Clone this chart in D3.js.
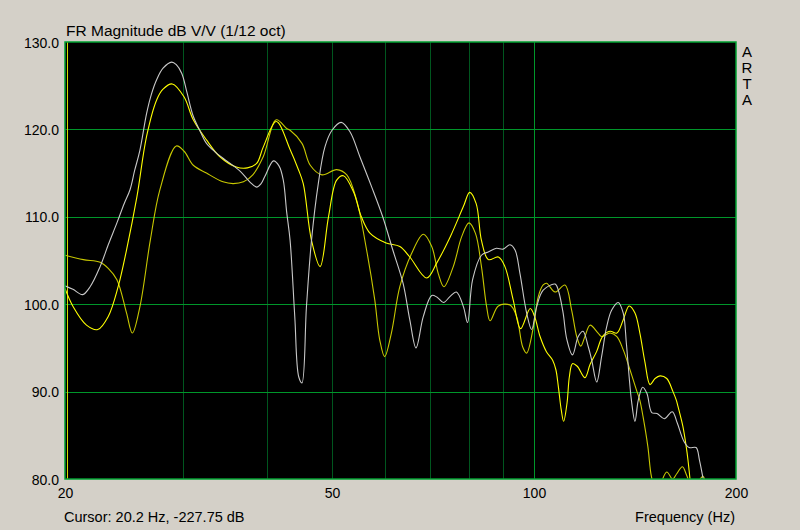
<!DOCTYPE html>
<html>
<head>
<meta charset="utf-8">
<script src="https://cdn.jsdelivr.net/npm/d3@7"></script>
<style>
  body { margin: 0; background: #d4d0c8; }
  text { font-family: "Liberation Sans", Arial, sans-serif; fill: #000; }
</style>
</head>
<body>
<div id="chart"></div>
<script>
// FR magnitude plot (ARTA style), 1/12 oct smoothing

// Axis values
var yTicks = [80, 90, 100, 110, 120, 130];
var xLabels = [20, 50, 100, 200];
var gridFreqs = [30, 40, 50, 60, 70, 80, 90, 100];
var cursorFreq = 20.2;

// White trace
var whiteFreq = [20.0, 20.55, 21.25, 21.8, 22.56, 23.2, 23.9, 24.5, 25.0, 25.4, 25.86, 26.46, 26.9, 27.4, 28.0, 28.84, 29.3, 29.86, 30.4, 31.06, 31.8, 32.5, 33.5, 34.4, 36.5, 37.7, 38.6, 39.2, 39.7, 40.9, 41.7, 42.3, 42.8, 43.3, 44.0, 44.6, 45.1, 45.8, 46.6, 47.7, 48.8, 50.0, 51.6, 53.2, 55.0, 57.3, 59.5, 61.6, 63.8, 65.3, 66.7, 68.4, 70.4, 71.7, 73.3, 75.0, 76.6, 78.5, 79.6, 81.0, 83.5, 85.6, 87.9, 89.9, 92.1, 93.7, 95.3, 97.5, 99.2, 100.9, 103.2, 107.5, 108.7, 110.5, 111.9, 114.1, 116.4, 118.3, 120.5, 121.9, 124.0, 126.1, 128.3, 130.5, 133.5, 135.8, 137.3, 138.6, 139.7, 141.4, 143.0, 145.2, 147.3, 149.8, 152.5, 156.4, 160.7, 163.5, 167.3, 170.3, 174.4, 176.4, 178.6, 181.0];
var whiteDb = [102.1, 101.7, 101.1, 102.0, 104.3, 106.8, 109.3, 111.5, 113.1, 115.3, 117.6, 121.8, 124.0, 125.7, 127.0, 127.7, 127.4, 126.4, 124.2, 121.5, 119.8, 118.4, 117.4, 116.7, 115.2, 114.0, 113.4, 113.8, 114.6, 116.4, 115.8, 114.2, 110.5, 107.3, 98.6, 91.7, 91.0, 99.7, 107.3, 113.8, 118.0, 119.9, 120.8, 119.7, 116.9, 113.4, 110.0, 106.2, 102.4, 98.2, 95.0, 98.6, 101.0, 100.8, 100.2, 100.9, 101.4, 99.7, 97.9, 102.8, 105.6, 106.0, 106.4, 106.3, 106.8, 106.2, 103.5, 99.0, 97.1, 99.7, 101.6, 102.3, 101.6, 99.0, 96.0, 94.2, 96.3, 96.9, 95.1, 93.6, 91.1, 94.0, 97.4, 99.3, 100.2, 99.0, 95.5, 91.7, 89.0, 86.6, 89.0, 90.5, 89.8, 87.6, 87.5, 86.9, 87.7, 86.4, 84.3, 83.6, 83.6, 82.2, 80.1, 78.0];

// Bright yellow trace
var brightFreq = [20.0, 20.57, 21.53, 22.38, 23.2, 24.0, 24.7, 25.6, 26.46, 27.4, 28.0, 28.9, 30.1, 31.06, 32.5, 34.0, 36.0, 37.4, 38.6, 39.5, 41.3, 43.3, 44.5, 45.3, 46.6, 48.0, 49.4, 50.8, 52.0, 53.8, 55.3, 57.0, 60.2, 63.1, 65.3, 69.2, 71.6, 75.0, 78.5, 80.2, 82.0, 83.5, 85.5, 88.5, 90.5, 93.1, 95.5, 98.7, 100.2, 102.1, 104.3, 106.6, 107.8, 108.7, 109.8, 110.7, 112.0, 112.9, 114.1, 116.0, 119.1, 121.2, 124.0, 126.5, 129.8, 132.9, 135.8, 138.6, 141.4, 143.8, 146.3, 148.9, 151.5, 154.1, 157.7, 161.1, 163.0, 163.9, 166.7, 168.6, 169.6, 170.8, 172.0];
var brightDb = [101.8, 99.7, 97.6, 97.1, 98.6, 102.0, 106.2, 112.3, 119.2, 123.4, 124.6, 125.2, 123.7, 121.1, 118.8, 116.9, 115.7, 115.6, 116.1, 118.0, 120.9, 117.7, 115.5, 113.8, 107.3, 104.3, 110.0, 114.2, 114.7, 112.9, 110.0, 108.1, 107.0, 106.6, 105.4, 103.0, 104.7, 107.7, 111.2, 112.8, 111.5, 107.3, 105.1, 105.4, 104.3, 100.5, 97.2, 99.5, 98.6, 96.3, 94.6, 93.6, 92.5, 90.6, 87.9, 86.6, 88.7, 91.7, 93.2, 92.9, 91.6, 93.1, 94.6, 96.3, 96.9, 96.7, 98.2, 99.8, 99.0, 96.7, 93.4, 90.8, 91.5, 91.8, 91.5, 90.0, 89.0, 88.3, 86.0, 83.7, 82.2, 80.0, 78.0];

// Olive trace
var oliveFreq = [20.0, 21.3, 22.56, 23.2, 23.9, 24.7, 25.2, 25.86, 26.8, 27.7, 29.3, 30.1, 31.06, 32.5, 34.4, 35.6, 36.9, 38.1, 39.5, 41.3, 42.8, 43.3, 45.1, 46.4, 48.3, 50.8, 52.6, 54.4, 56.3, 57.9, 58.9, 59.9, 61.3, 63.1, 65.7, 68.4, 70.4, 72.0, 73.4, 75.8, 78.0, 80.0, 81.8, 83.5, 85.0, 86.0, 88.5, 92.1, 94.2, 96.2, 97.5, 99.8, 101.5, 103.2, 104.4, 107.5, 111.2, 113.8, 115.8, 117.4, 119.1, 121.2, 124.6, 126.1, 129.8, 132.9, 135.8, 139.0, 142.1, 143.8, 145.4, 147.8, 149.6, 152.0, 154.5, 157.7, 160.9, 163.2, 166.4, 168.9, 171.0, 175.0, 178.6, 181.0, 183.0];
var oliveDb = [105.6, 105.1, 104.8, 104.1, 102.8, 99.0, 96.7, 99.7, 107.3, 113.1, 118.1, 117.5, 115.9, 115.0, 114.0, 113.8, 114.0, 114.8, 116.9, 121.1, 120.1, 119.9, 118.4, 115.9, 114.8, 115.4, 114.8, 111.9, 106.2, 100.5, 95.9, 94.0, 96.7, 102.0, 105.8, 108.0, 106.6, 103.5, 102.0, 104.3, 107.7, 109.3, 108.1, 104.3, 99.7, 98.1, 99.8, 99.9, 98.6, 95.1, 94.4, 97.4, 100.9, 102.2, 102.4, 101.4, 102.2, 99.3, 96.3, 95.2, 96.3, 97.6, 96.7, 96.3, 96.7, 96.3, 94.8, 92.5, 90.2, 89.0, 87.1, 83.7, 80.3, 78.5, 79.5, 80.8, 80.0, 80.6, 81.4, 80.4, 79.5, 79.6, 80.3, 79.0, 78.0];

var traces = [
    { name: "olive", freq: oliveFreq, db: oliveDb, color: "#c8c800" },
    { name: "bright", freq: brightFreq, db: brightDb, color: "#ffff00" },
    { name: "white", freq: whiteFreq, db: whiteDb, color: "#c8c8c8" }
];

// SVG dimensions
var svgWidth = 800;
var svgHeight = 530;
var plot = { left: 65, top: 42, right: 736, bottom: 479 };
var plotWidth = plot.right - plot.left;
var plotHeight = plot.bottom - plot.top;

var svg = d3.select("#chart")
    .append("svg")
    .attr("width", svgWidth)
    .attr("height", svgHeight)
    .style("display", "block");

svg.append("rect")
    .attr("width", svgWidth)
    .attr("height", svgHeight)
    .attr("fill", "#d4d0c8");

// Scales
var xScale = d3.scaleLog().domain([20, 200]).range([plot.left, plot.right]);
var yScale = d3.scaleLinear().domain([80, 130]).range([plot.bottom, plot.top]);

// Plot background
svg.append("rect")
    .attr("x", plot.left)
    .attr("y", plot.top)
    .attr("width", plotWidth)
    .attr("height", plotHeight)
    .attr("fill", "#000");

svg.append("clipPath")
    .attr("id", "plotClip")
    .append("rect")
    .attr("x", plot.left)
    .attr("y", plot.top)
    .attr("width", plotWidth)
    .attr("height", plotHeight);

// Vertical grid
var xGrid = svg.append("g")
    .attr("transform", `translate(0, ${plot.bottom})`)
    .call(d3.axisBottom(xScale).tickValues(gridFreqs).tickSize(-plotHeight).tickFormat(""));
xGrid.select(".domain").remove();
xGrid.selectAll("line")
    .attr("stroke", d => d === 100 ? "#00962a" : "#00561e")
    .attr("shape-rendering", "crispEdges");

// Horizontal grid
var yGrid = svg.append("g")
    .attr("transform", `translate(${plot.left}, 0)`)
    .call(d3.axisLeft(yScale).tickValues(yTicks.slice(1, -1)).tickSize(-plotWidth).tickFormat(""));
yGrid.select(".domain").remove();
yGrid.selectAll("line")
    .attr("stroke", "#00962a")
    .attr("shape-rendering", "crispEdges");

// Cursor line
svg.append("line")
    .attr("x1", xScale(cursorFreq))
    .attr("x2", xScale(cursorFreq))
    .attr("y1", plot.top)
    .attr("y2", plot.bottom)
    .attr("stroke", "#d8d800")
    .attr("shape-rendering", "crispEdges");

// Traces
var line = d3.line()
    .x(d => xScale(d[0]))
    .y(d => yScale(d[1]))
    .curve(d3.curveCatmullRom.alpha(0.5));

svg.append("g")
    .attr("clip-path", "url(#plotClip)")
    .selectAll("path")
    .data(traces)
    .enter()
    .append("path")
    .attr("d", t => line(t.freq.map((f, i) => [f, t.db[i]])))
    .attr("fill", "none")
    .attr("stroke", t => t.color)
    .attr("stroke-width", 1.1);

// Frame
svg.append("rect")
    .attr("x", plot.left)
    .attr("y", plot.top)
    .attr("width", plotWidth)
    .attr("height", plotHeight)
    .attr("fill", "none")
    .attr("stroke", "#00a030")
    .attr("stroke-width", 1.5);

// Y axis labels
var yAxis = svg.append("g")
    .attr("transform", `translate(${plot.left}, 0)`)
    .call(d3.axisLeft(yScale).tickValues(yTicks).tickSize(0).tickPadding(6).tickFormat(d3.format(".1f")));
yAxis.select(".domain").remove();
yAxis.selectAll("text")
    .attr("font-size", 14)
    .attr("dy", "0.36em")
    .style("font-family", "'Liberation Sans', Arial, sans-serif");

// X axis labels
var xAxis = svg.append("g")
    .attr("transform", `translate(0, ${plot.bottom})`)
    .call(d3.axisBottom(xScale).tickValues(xLabels).tickSize(0).tickPadding(9).tickFormat(d3.format("d")));
xAxis.select(".domain").remove();
xAxis.selectAll("text")
    .attr("font-size", 14)
    .style("font-family", "'Liberation Sans', Arial, sans-serif");

// Titles
svg.append("text")
    .attr("x", 66)
    .attr("y", 36)
    .attr("font-size", 15.5)
    .text("FR Magnitude dB V/V (1/12 oct)");

svg.append("text")
    .attr("x", 64)
    .attr("y", 522)
    .attr("font-size", 14.5)
    .text("Cursor: 20.2 Hz, -227.75 dB");

svg.append("text")
    .attr("x", 735)
    .attr("y", 522)
    .attr("font-size", 14.5)
    .attr("text-anchor", "end")
    .text("Frequency (Hz)");

svg.append("g")
    .selectAll("text")
    .data(["A", "R", "T", "A"])
    .enter()
    .append("text")
    .attr("x", 747)
    .attr("y", (d, i) => 57 + i * 16)
    .attr("font-size", 15)
    .attr("text-anchor", "middle")
    .text(d => d);
</script>
</body>
</html>
